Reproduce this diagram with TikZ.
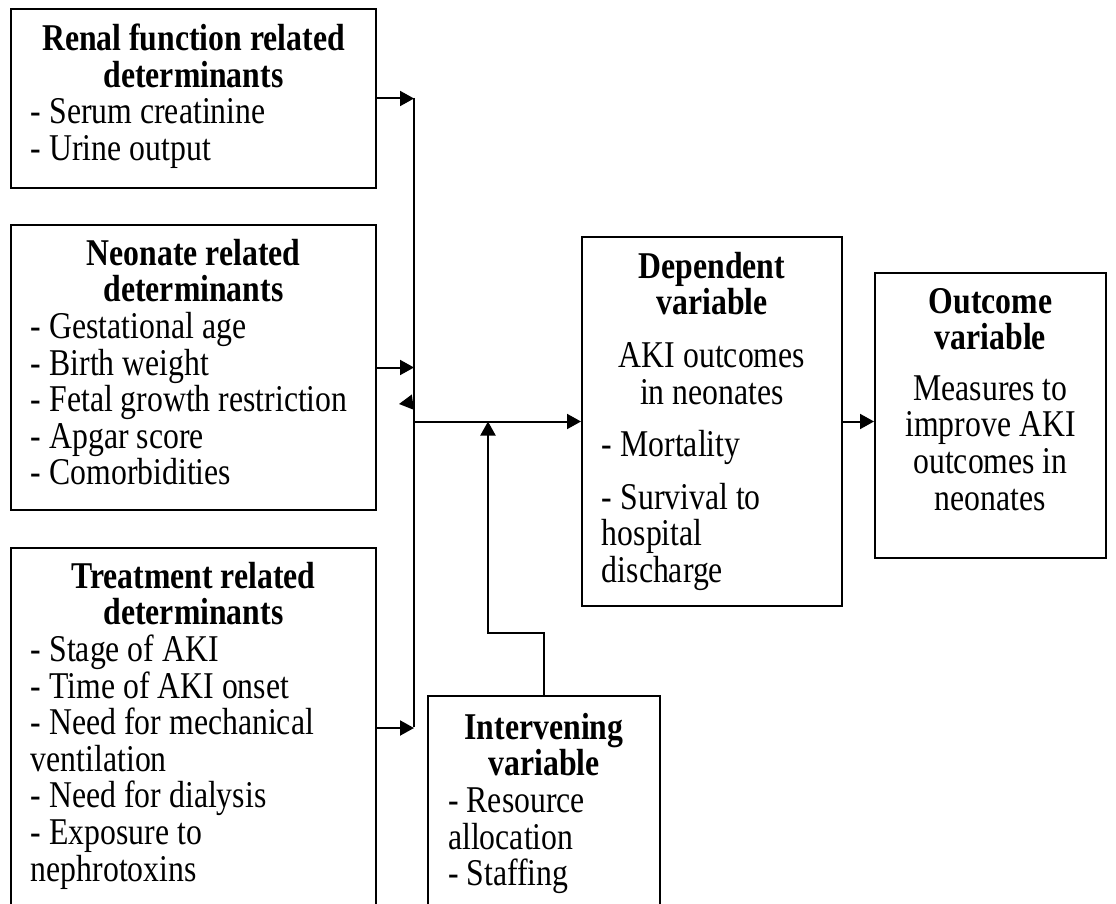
\documentclass[tikz,border=0pt]{standalone}
\usepackage{fontspec}
\usepackage{graphicx}
\setmainfont{Liberation Serif}
\usetikzlibrary{arrows.meta}
\usetikzlibrary{positioning}
\newcommand{\narrowpar}[2]{\scalebox{0.84}[1]{\parbox[t]{#1}{#2}}}

\begin{document}
\begin{tikzpicture}[x=1pt,y=-1pt,line width=2pt,
  box/.style={draw,anchor=north west,inner sep=0pt},
  txt/.style={inner xsep=20pt,inner ysep=0pt,font=\fontsize{37.8}{36.6}\selectfont},
  arr/.style={-{Triangle[length=14pt,width=15pt]}}]
  \useasboundingbox (0,0) rectangle (1116,904);
  \clip (0,0) rectangle (1116,904);
  %left
  \node[box,minimum width=365pt,minimum height=179pt] (renal) at (10,8) {};
  \node[txt,below=15pt of renal.north] (renal-txt) {\narrowpar{387pt}{{\centering\bfseries Renal function related\\determinants\par}\raggedright - Serum creatinine\\- Urine output}};
  \node[box,minimum width=365pt,minimum height=285pt] (neo) at (10,224) {};
  \node[txt,below=14pt of neo.north] (neo-txt) {\narrowpar{387pt}{{\centering\bfseries Neonate related\\determinants\par}\raggedright - Gestational age\\- Birth weight\\- Fetal growth restriction\\- Apgar score\\- Comorbidities}};
  \node[box,minimum width=365pt,minimum height=360pt] (treat) at (10,547) {};
  \node[txt,below=14pt of treat.north] (treat-txt) {\narrowpar{387pt}{{\centering\bfseries Treatment related\\determinants\par}\raggedright - Stage of AKI\\- Time of AKI onset\\- Need for mechanical\\ventilation\\- Need for dialysis\\- Exposure to\\nephrotoxins}};
  %middle
  \node[box,minimum width=232pt,minimum height=225pt] (interv) at (427,695) {};
  \node[txt,below=17pt of interv.north] (interv-txt) {\narrowpar{228pt}{{\centering\bfseries Intervening\\variable\par}\raggedright - Resource\\allocation\\- Staffing}};
  \node[box,minimum width=260pt,minimum height=369pt] (dep) at (581,236) {};
  \node[txt,below=15pt of dep.north] (dep-txt) {\narrowpar{262pt}{{\centering\bfseries Dependent\\variable\par}\vspace{16pt}{\centering AKI outcomes\\in neonates\par}\vspace{16pt}\raggedright - Mortality\par\vspace{16pt}- Survival to\\hospital\\discharge}};
  %right
  \node[box,minimum width=231pt,minimum height=285pt] (out) at (874,272) {};
  \node[txt,below=15pt of out.north] (out-txt) {\narrowpar{227pt}{{\centering\bfseries Outcome\\variable\par}\vspace{14pt}{\centering Measures to\\improve AKI\\outcomes in\\neonates\par}}};

  %connectors
  \coordinate (bustop) at (414,98);
  \coordinate (busbot) at (414,727);
  \draw (bustop) -- (busbot);
  \draw[arr] (renal.east) -- (renal.east -| bustop);
  \draw[arr] (neo.east) -- (neo.east -| bustop);
  \draw[arr] (treat.east) -- (treat.east -| bustop);
  \coordinate (stubfoot) at (414,402);
  \coordinate (stub) at (399,404);
  \draw[arr] (stubfoot) -- (stub);
  \draw[arr] (dep.west -| bustop) -- (dep.west);
  \coordinate (bend) at (488,633);
  \draw[arr] (interv.north) |- (bend) -- (bend |- dep.west);
  \draw[arr] (dep.east) -- (dep.east -| out.west);
\end{tikzpicture}
\end{document}
